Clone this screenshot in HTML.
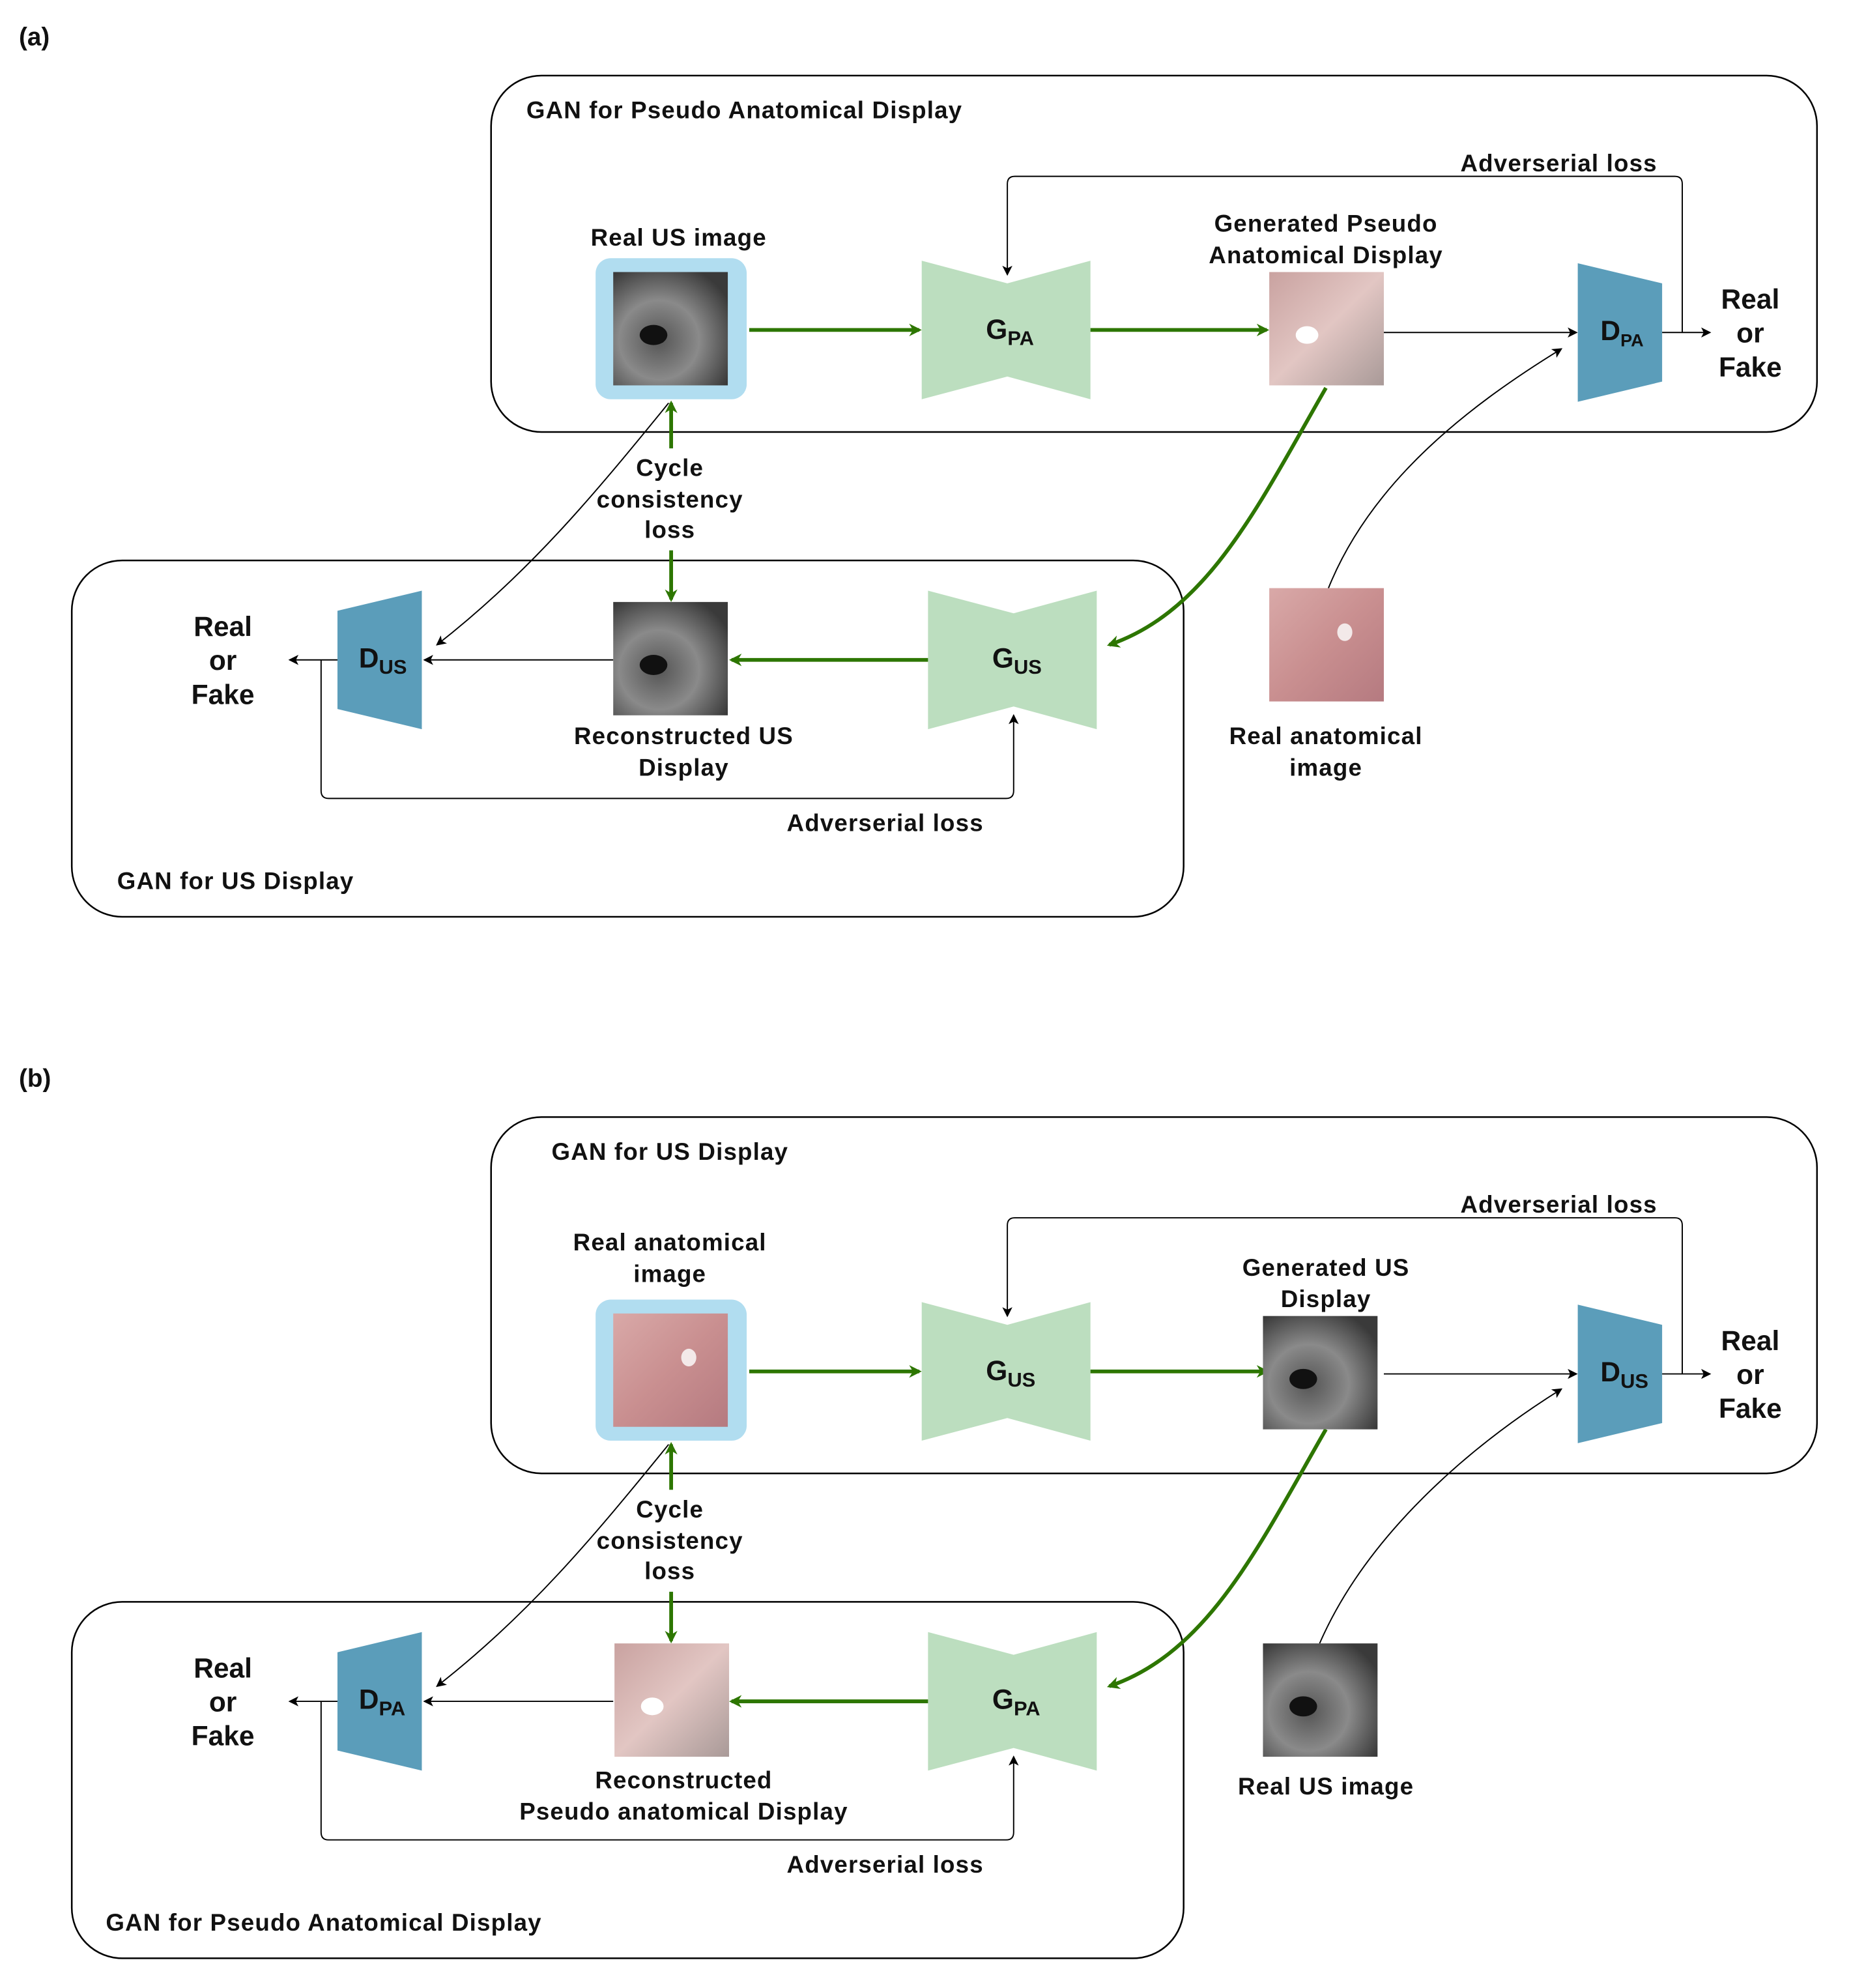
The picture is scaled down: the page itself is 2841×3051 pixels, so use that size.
<!DOCTYPE html>
<html><head><meta charset="utf-8"><style>
html,body{margin:0;padding:0;background:#fff}
svg{display:block}
text{font-family:"Liberation Sans",sans-serif;font-weight:bold;fill:#111}
text[font-size="19"]{letter-spacing:0.6px}
</style></head><body>
<svg width="2841" height="3051" viewBox="0 0 1470 1578.6" xmlns="http://www.w3.org/2000/svg">
<defs>
<marker id="gA" markerWidth="10" markerHeight="10" refX="8" refY="5" orient="auto" markerUnits="userSpaceOnUse"><path d="M0,0 L10,5 L0,10 L3,5 Z" fill="#2d7600"/></marker>
<marker id="bA" markerWidth="8" markerHeight="8" refX="7" refY="4" orient="auto" markerUnits="userSpaceOnUse"><path d="M0,0 L8,4 L0,8 L2,4 Z" fill="#000"/></marker>
<radialGradient id="us" cx="0.4" cy="0.6" r="0.7"><stop offset="0" stop-color="#555"/><stop offset="0.5" stop-color="#8a8a8a"/><stop offset="1" stop-color="#3a3a3a"/></radialGradient>
<linearGradient id="pk" x1="0" y1="0" x2="1" y2="1"><stop offset="0" stop-color="#d9a9a8"/><stop offset="0.5" stop-color="#c98f90"/><stop offset="1" stop-color="#b57a80"/></linearGradient>
<linearGradient id="pk2" x1="0" y1="0" x2="1" y2="1"><stop offset="0" stop-color="#c9a2a0"/><stop offset="0.5" stop-color="#e2c6c3"/><stop offset="1" stop-color="#a99a98"/></linearGradient>
<g id="usimg"><rect width="91" height="90" fill="url(#us)"/><ellipse cx="32" cy="50" rx="11" ry="8" fill="#111"/></g>
<g id="pkimg"><rect width="91" height="90" fill="url(#pk)"/><ellipse cx="60" cy="35" rx="6" ry="7" fill="#f3e9e9"/></g>
<g id="pkimg2"><rect width="91" height="90" fill="url(#pk2)"/><ellipse cx="30" cy="50" rx="9" ry="7" fill="#fff"/></g>
</defs>

<text x="15" y="36" font-size="20">(a)</text>
<text x="15" y="863" font-size="20">(b)</text>

<g id="panel">
<rect x="390" y="60" width="1053" height="283" rx="40" fill="none" stroke="#000" stroke-width="1.3"/>
<rect x="57" y="445" width="883" height="283" rx="40" fill="none" stroke="#000" stroke-width="1.3"/>
<rect x="473" y="205" width="120" height="112" rx="12" fill="#b1ddf0"/>
<line x1="595" y1="262" x2="730" y2="262" stroke="#2d7600" stroke-width="3" marker-end="url(#gA)"/>
<polygon points="732,207 800,225 866,207 866,317 800,299 732,317" fill="#bcdebf"/>
<line x1="866" y1="262" x2="1006" y2="262" stroke="#2d7600" stroke-width="3" marker-end="url(#gA)"/>
<line x1="1099" y1="264" x2="1252" y2="264" stroke="#000" stroke-width="1" marker-end="url(#bA)"/>
<polygon points="1253,209 1320,225 1320,303 1253,319" fill="#5b9dba"/>
<line x1="1320" y1="264" x2="1358" y2="264" stroke="#000" stroke-width="1" marker-end="url(#bA)"/>
<path d="M1336,264 L1336,146 Q1336,140 1330,140 L806,140 Q800,140 800,146 L800,218" fill="none" stroke="#000" stroke-width="1" marker-end="url(#bA)"/>
<text x="1238" y="136" font-size="19" text-anchor="middle">Adverserial loss</text>
<text x="1390" y="245" font-size="22" text-anchor="middle">Real</text>
<text x="1390" y="272" font-size="22" text-anchor="middle">or</text>
<text x="1390" y="299" font-size="22" text-anchor="middle">Fake</text>
<line x1="533" y1="356" x2="533" y2="320" stroke="#2d7600" stroke-width="3" marker-end="url(#gA)"/>
<line x1="533" y1="437" x2="533" y2="476" stroke="#2d7600" stroke-width="3" marker-end="url(#gA)"/>
<text x="532" y="378" font-size="19" text-anchor="middle">Cycle</text>
<text x="532" y="403" font-size="19" text-anchor="middle">consistency</text>
<text x="532" y="427" font-size="19" text-anchor="middle">loss</text>
<path d="M531,320 C470,395 420,455 347,512" fill="none" stroke="#000" stroke-width="1" marker-end="url(#bA)"/>
<path d="M1053,308 C1000,400 960,485 881,512" fill="none" stroke="#2d7600" stroke-width="3" marker-end="url(#gA)"/>
<polygon points="737,469 805,487 871,469 871,579 805,561 737,579" fill="#bcdebf"/>
<line x1="737" y1="524" x2="581" y2="524" stroke="#2d7600" stroke-width="3" marker-end="url(#gA)"/>
<line x1="487" y1="524" x2="337" y2="524" stroke="#000" stroke-width="1" marker-end="url(#bA)"/>
<polygon points="335,469 268,485 268,563 335,579" fill="#5b9dba"/>
<line x1="268" y1="524" x2="230" y2="524" stroke="#000" stroke-width="1" marker-end="url(#bA)"/>
<path d="M255,524 L255,628 Q255,634 261,634 L799,634 Q805,634 805,628 L805,568" fill="none" stroke="#000" stroke-width="1" marker-end="url(#bA)"/>
<text x="703" y="660" font-size="19" text-anchor="middle">Adverserial loss</text>
<text x="177" y="505" font-size="22" text-anchor="middle">Real</text>
<text x="177" y="532" font-size="22" text-anchor="middle">or</text>
<text x="177" y="559" font-size="22" text-anchor="middle">Fake</text>
</g>
<use href="#panel" transform="translate(0,827)"/>

<path d="M1055,467 C1090,380 1170,320 1240,277" fill="none" stroke="#000" stroke-width="1" marker-end="url(#bA)"/>
<use href="#usimg" x="487" y="216"/>
<use href="#pkimg2" x="1008" y="216"/>
<use href="#usimg" x="487" y="478"/>
<use href="#pkimg" x="1008" y="467"/>
<text x="418" y="94" font-size="19">GAN for Pseudo Anatomical Display</text>
<text x="93" y="706" font-size="19">GAN for US Display</text>
<text x="539" y="195" font-size="19" text-anchor="middle">Real US image</text>
<text x="1053" y="184" font-size="19" text-anchor="middle">Generated Pseudo</text>
<text x="1053" y="209" font-size="19" text-anchor="middle">Anatomical Display</text>
<text x="543" y="591" font-size="19" text-anchor="middle">Reconstructed US</text>
<text x="543" y="616" font-size="19" text-anchor="middle">Display</text>
<text x="1053" y="591" font-size="19" text-anchor="middle">Real anatomical</text>
<text x="1053" y="616" font-size="19" text-anchor="middle">image</text>
<text x="783" y="269" font-size="22">G<tspan font-size="16" dy="5">PA</tspan></text>
<text x="1271" y="270" font-size="22">D<tspan font-size="14" dy="5">PA</tspan></text>
<text x="788" y="530" font-size="22">G<tspan font-size="16" dy="5">US</tspan></text>
<text x="285" y="530" font-size="22">D<tspan font-size="16" dy="5">US</tspan></text>

<path d="M1048,1305 C1085,1220 1165,1150 1240,1103" fill="none" stroke="#000" stroke-width="1" marker-end="url(#bA)"/>
<use href="#pkimg" x="487" y="1043"/>
<use href="#usimg" x="1003" y="1045"/>
<use href="#pkimg2" x="488" y="1305"/>
<use href="#usimg" x="1003" y="1305"/>
<text x="438" y="921" font-size="19">GAN for US Display</text>
<text x="84" y="1533" font-size="19">GAN for Pseudo Anatomical Display</text>
<text x="532" y="993" font-size="19" text-anchor="middle">Real anatomical</text>
<text x="532" y="1018" font-size="19" text-anchor="middle">image</text>
<text x="1053" y="1013" font-size="19" text-anchor="middle">Generated US</text>
<text x="1053" y="1038" font-size="19" text-anchor="middle">Display</text>
<text x="543" y="1420" font-size="19" text-anchor="middle">Reconstructed</text>
<text x="543" y="1445" font-size="19" text-anchor="middle">Pseudo anatomical Display</text>
<text x="1053" y="1425" font-size="19" text-anchor="middle">Real US image</text>
<text x="783" y="1096" font-size="22">G<tspan font-size="16" dy="5">US</tspan></text>
<text x="1271" y="1097" font-size="22">D<tspan font-size="16" dy="5">US</tspan></text>
<text x="788" y="1357" font-size="22">G<tspan font-size="16" dy="5">PA</tspan></text>
<text x="285" y="1357" font-size="22">D<tspan font-size="16" dy="5">PA</tspan></text>
</svg>
</body></html>
